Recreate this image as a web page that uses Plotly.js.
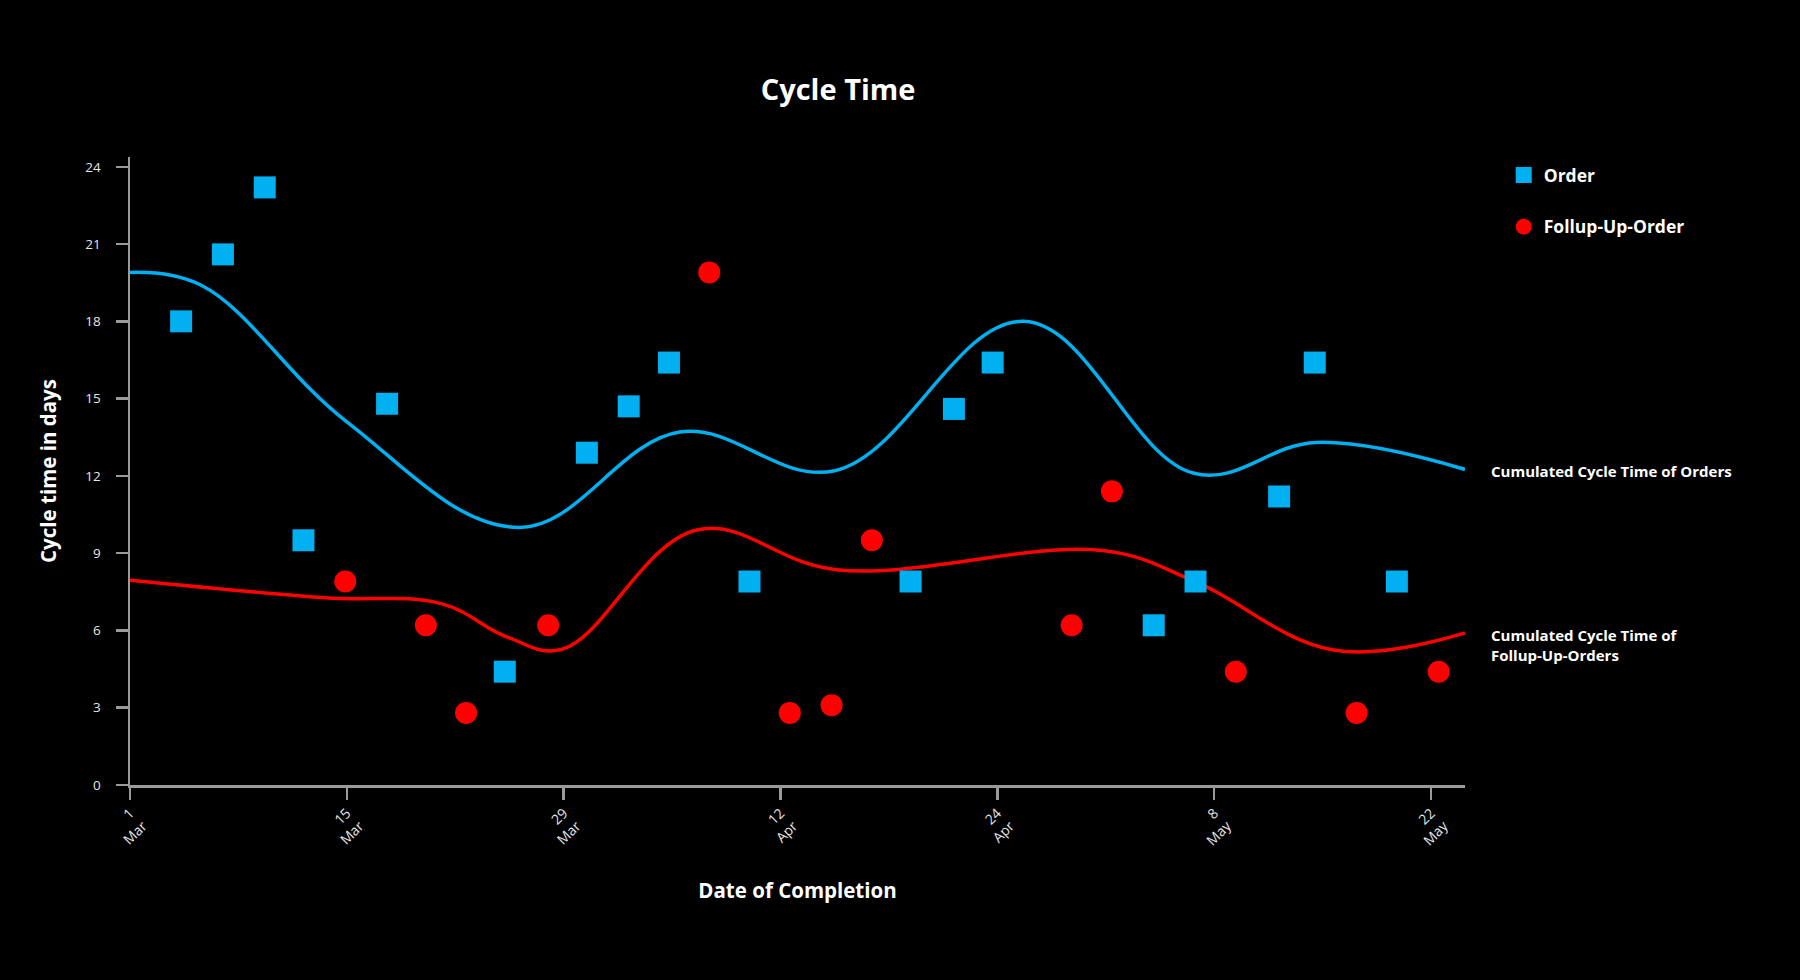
<!DOCTYPE html>
<html>
<head>
<meta charset="utf-8">
<script src="https://cdn.plot.ly/plotly-3.0.1.min.js"></script>
<style>html,body{margin:0;padding:0;background:#000;}#chart{width:1800px;height:980px;}</style>
</head>
<body>
<div id="chart"></div>
<script>
// Days since 1 March
const orderDays = [3.3, 6.0, 8.7, 11.2, 16.6, 24.2, 29.5, 32.2, 34.8, 40.0, 50.4, 53.2, 55.7, 58.4, 66.1, 68.8, 74.2, 76.5, 81.8];
const orderValues = [18.0, 20.6, 23.2, 9.5, 14.8, 4.4, 12.9, 14.7, 16.4, 7.9, 7.9, 14.6, 16.4, 24.8, 6.2, 7.9, 11.2, 16.4, 7.9];

const followDays = [13.9, 19.1, 21.7, 27.0, 37.4, 42.6, 45.3, 47.9, 60.8, 63.4, 71.4, 79.2, 84.5];
const followValues = [7.9, 6.2, 2.8, 6.2, 19.9, 2.8, 3.1, 9.5, 6.2, 11.4, 4.4, 2.8, 4.4];

const cumOrderDays = [0, 4.6, 14, 25.1, 35.5, 45.5, 57.7, 68.7, 76.6, 86.2];
const cumOrderValues = [19.9, 19.4, 14.1, 10.0, 13.7, 12.2, 18.0, 12.1, 13.3, 12.25];

const cumFollowDays = [0, 12.6, 20.1, 24.4, 27.9, 36.6, 45.6, 62.8, 68.7, 77.7, 86.2];
const cumFollowValues = [7.95, 7.27, 7.04, 5.73, 5.27, 9.9, 8.36, 9.1, 7.92, 5.24, 5.9];

const tickDays = [0, 14, 28, 42, 56, 70, 84];
const tickLabels = ["1<br>Mar", "15<br>Mar", "29<br>Mar", "12<br>Apr", "24<br>Apr", "8<br>May", "22<br>May"];

const seriesNames = ["Order", "Follup-Up-Order"];
const curveLabels = ["Cumulated Cycle Time of Orders", "Cumulated Cycle Time of<br>Follup-Up-Orders"];

const BLUE = "#00b0f0";
const RED = "#ff0000";
const FONT = "Open Sans, Noto Sans, sans-serif";

const traces = [
  {
    x: cumOrderDays, y: cumOrderValues, mode: "lines", type: "scatter",
    line: {color: BLUE, width: 3.5, shape: "spline", smoothing: 1.1},
    showlegend: false, hoverinfo: "skip", cliponaxis: true
  },
  {
    x: cumFollowDays, y: cumFollowValues, mode: "lines", type: "scatter",
    line: {color: RED, width: 3.5, shape: "spline", smoothing: 1.1},
    showlegend: false, hoverinfo: "skip", cliponaxis: true
  },
  {
    x: orderDays, y: orderValues, mode: "markers", type: "scatter", name: seriesNames[0],
    legendgroup: "a",
    marker: {symbol: "square", size: 22, color: BLUE}, cliponaxis: false
  },
  {
    x: followDays, y: followValues, mode: "markers", type: "scatter", name: seriesNames[1],
    legendgroup: "b",
    marker: {symbol: "circle", size: 22, color: RED}, cliponaxis: false
  }
];

const axisColor = "#9a9a9a";
const layout = {
  width: 1800, height: 980,
  paper_bgcolor: "#000", plot_bgcolor: "#000",
  font: {family: FONT, color: "#ffffff"},
  margin: {l: 129.5, r: 335, t: 157, b: 195},
  title: {
    text: "Cycle Time", x: 0.4656, xref: "container", xanchor: "center",
    y: 0.9087, yref: "container", yanchor: "middle",
    font: {family: FONT, size: 29, weight: 700, color: "#ffffff"}
  },
  xaxis: {
    range: [0, 86.2], showgrid: false, zeroline: false,
    showline: true, linecolor: axisColor, linewidth: 2.5,
    ticks: "outside", ticklen: 12, tickwidth: 2.5, tickcolor: axisColor,
    tickvals: tickDays, ticktext: tickLabels, tickangle: -45,
    tickfont: {family: FONT, size: 14, color: "#e6e6e6"},
    title: {text: "Date of Completion", standoff: 36, font: {family: FONT, size: 20.5, weight: 700, color: "#ffffff"}},
    automargin: false
  },
  yaxis: {
    range: [0, 24.38], showgrid: false, zeroline: false,
    showline: true, linecolor: axisColor, linewidth: 2.5,
    ticks: "outside", ticklen: 12, tickwidth: 2.5, tickcolor: axisColor,
    tickvals: [0, 3, 6, 9, 12, 15, 18, 21, 24],
    tickfont: {family: FONT, size: 13.5, color: "#e6e6e6"},
    ticklabelstandoff: 12,
    title: {text: "Cycle time in days", standoff: 23, font: {family: FONT, size: 20.5, weight: 700, color: "#ffffff"}},
    automargin: false
  },
  legend: {
    x: 1.029, y: 1.0, xanchor: "left", yanchor: "top",
    font: {family: FONT, size: 17.5, weight: 700, color: "#ffffff"},
    tracegroupgap: 26, bgcolor: "rgba(0,0,0,0)", itemsizing: "trace"
  },
  annotations: [
    {
      x: cumOrderDays[cumOrderDays.length - 1], y: cumOrderValues[cumOrderValues.length - 1],
      xref: "x", yref: "y", text: curveLabels[0], showarrow: false,
      xanchor: "left", yanchor: "middle", xshift: 24, yshift: -2, align: "left",
      font: {family: FONT, size: 15, weight: 700, color: "#ffffff"}
    },
    {
      x: cumFollowDays[cumFollowDays.length - 1], y: cumFollowValues[cumFollowValues.length - 1],
      xref: "x", yref: "y", text: curveLabels[1], showarrow: false,
      xanchor: "left", yanchor: "middle", xshift: 24, yshift: -12, align: "left",
      font: {family: FONT, size: 15, weight: 700, color: "#ffffff"}
    }
  ]
};

Plotly.newPlot("chart", traces, layout, {displayModeBar: false, staticPlot: true});
</script>
</body>
</html>
